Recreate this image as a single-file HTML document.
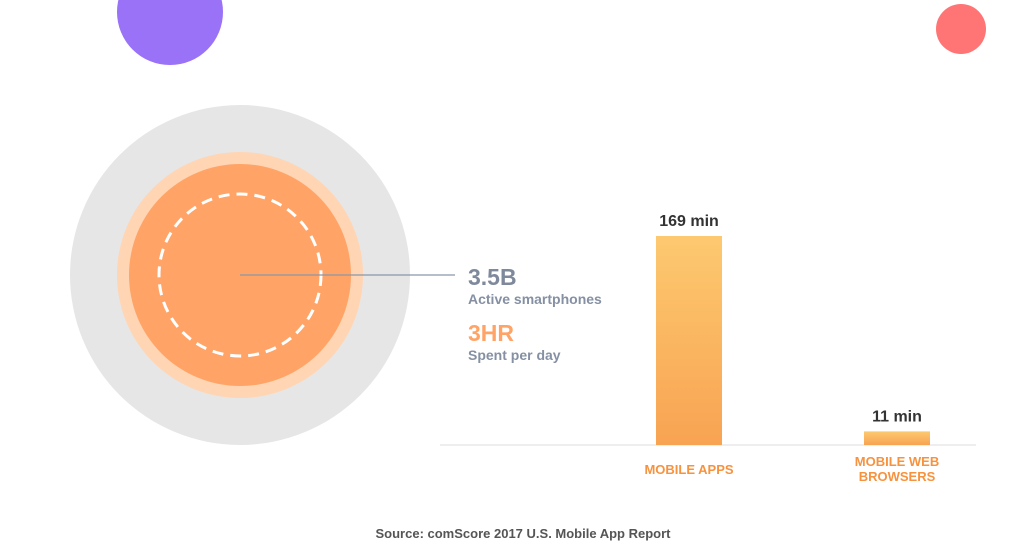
<!DOCTYPE html>
<html><head><meta charset="utf-8"><style>
html,body{margin:0;padding:0;background:#fff;}
body{width:1019px;height:552px;overflow:hidden;font-family:"Liberation Sans",sans-serif;}
</style></head><body>
<svg width="1019" height="552" viewBox="0 0 1019 552">
<defs>
<linearGradient id="bg" x1="0" y1="0" x2="0" y2="1">
<stop offset="0" stop-color="#fdc970"/><stop offset="1" stop-color="#f8a352"/>
</linearGradient>
</defs>
<circle cx="170" cy="12" r="53" fill="#9a72f7"/>
<circle cx="961" cy="29" r="25" fill="#ff7575"/>
<circle cx="240" cy="275" r="170" fill="#e6e6e6"/>
<circle cx="240" cy="275" r="123" fill="#ffd5b4"/>
<circle cx="240" cy="275" r="111" fill="#ffa466"/>
<circle cx="240" cy="275" r="81" fill="none" stroke="#fff" stroke-width="3" stroke-dasharray="11 7"/>
<line x1="240" y1="275" x2="455" y2="275" stroke="#8a96aa" stroke-width="1.2"/>
<text x="468" y="285" font-size="23" font-weight="bold" fill="#7f899c">3.5B</text>
<text x="468" y="304" font-size="14" font-weight="bold" fill="#8590a3">Active smartphones</text>
<text x="468" y="341" font-size="23" font-weight="bold" fill="#ffa466">3HR</text>
<text x="468" y="360" font-size="14" font-weight="bold" fill="#8590a3">Spent per day</text>
<line x1="440" y1="445" x2="976" y2="445" stroke="#eeeeee" stroke-width="2"/>
<g id="bars"></g>
<text x="523" y="538" font-size="13" font-weight="bold" fill="#555" text-anchor="middle">Source: comScore 2017 U.S. Mobile App Report</text>
</svg>
<script>
const categories=["MOBILE APPS","MOBILE WEB|BROWSERS"];
const values=[169,11];
const valueLabels=["169 min","11 min"];
const baseY=445, scale=209/169;
const centers=[689,897], barW=66;
function y(v){return baseY-v*scale;}
const g=document.getElementById('bars');
const ns="http://www.w3.org/2000/svg";
values.forEach((v,i)=>{
  const r=document.createElementNS(ns,'rect');
  r.setAttribute('x',centers[i]-barW/2);r.setAttribute('y',y(v));
  r.setAttribute('width',barW);r.setAttribute('height',baseY-y(v));
  r.setAttribute('fill','url(#bg)');
  
  
  g.appendChild(r);
  const t=document.createElementNS(ns,'text');
  t.setAttribute('x',centers[i]);t.setAttribute('y',y(v)-10);
  t.setAttribute('text-anchor','middle');t.setAttribute('font-size','16');
  t.setAttribute('font-weight','bold');t.setAttribute('fill','#333');
  t.textContent=valueLabels[i];
  
  
  g.appendChild(t);
  const lines=categories[i].split('|');
  const y0=lines.length>1?466:474;
  lines.forEach((ln,j)=>{
    const c=document.createElementNS(ns,'text');
    c.setAttribute('x',centers[i]);c.setAttribute('y',y0+j*15);
    c.setAttribute('text-anchor','middle');c.setAttribute('font-size','13');
    c.setAttribute('font-weight','bold');c.setAttribute('fill','#f7923e');
    c.textContent=ln;
    
    
    g.appendChild(c);
  });
});
</script>
</body></html>
